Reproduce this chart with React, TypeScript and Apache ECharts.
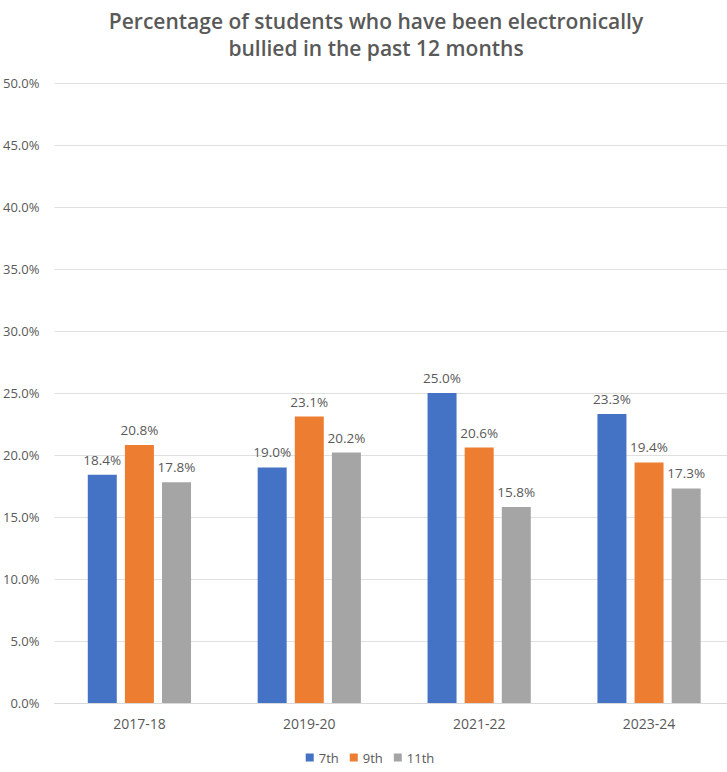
import React, { useEffect, useRef } from "react";
import * as echarts from "echarts";

const categories = ["2017-18", "2019-20", "2021-22", "2023-24"];
const seriesNames = ["7th", "9th", "11th"];
const values7th = [18.4, 19.0, 25.0, 23.3];
const values9th = [20.8, 23.1, 20.6, 19.4];
const values11th = [17.8, 20.2, 15.8, 17.3];
const colors = ["#4472C4", "#ED7D31", "#A5A5A5"];

const FONT = "'Open Sans', 'Noto Sans', sans-serif";

export default function App() {
  const ref = useRef<HTMLDivElement>(null);
  useEffect(() => {
    if (!ref.current) return;
    const chart = echarts.init(ref.current, undefined, { renderer: "svg" });
    const data = [values7th, values9th, values11th];
    chart.setOption({
      animation: false,
      backgroundColor: "#ffffff",
      title: {
        text: "Percentage of students who have been electronically\nbullied in the past 12 months",
        left: 371,
        textAlign: "center",
        top: 2,
        textStyle: {
          fontFamily: FONT,
          fontSize: 21,
          fontWeight: 600,
          color: "#595959",
          lineHeight: 27,
        },
      },
      legend: {
        data: seriesNames,
        bottom: 3,
        left: "center",
        itemWidth: 8,
        itemHeight: 8,
        itemGap: 11,
        icon: "rect",
        textStyle: { fontFamily: FONT, fontSize: 13, color: "#595959" },
      },
      grid: { left: 52, right: 6, top: 83, bottom: 69 },
      xAxis: {
        type: "category",
        data: categories,
        axisLine: { lineStyle: { color: "#d9d9d9" } },
        axisTick: { show: false },
        axisLabel: { fontFamily: FONT, fontSize: 14, color: "#595959", margin: 13 },
      },
      yAxis: {
        type: "value",
        min: 0,
        max: 50,
        interval: 5,
        axisLine: { show: false },
        axisTick: { show: false },
        splitLine: { lineStyle: { color: "#e0e0e0", width: 1 } },
        axisLabel: {
          fontFamily: FONT,
          fontSize: 13,
          color: "#595959",
          margin: 15,
          formatter: (v: number) => v.toFixed(1) + "%",
        },
      },
      series: seriesNames.map((name, i) => ({
        name,
        type: "bar",
        data: data[i],
        barWidth: 29,
        barGap: "28%",
        itemStyle: { color: colors[i] },
        label: {
          show: true,
          position: "top",
          distance: 8,
          fontFamily: FONT,
          fontSize: 13.5,
          color: "#595959",
          formatter: (p: any) => p.value.toFixed(1) + "%",
        },
      })),
    });
    return () => chart.dispose();
  }, []);
  return (
    <div style={{ position: "fixed", left: 0, top: 0, width: 727, height: 772, overflow: "hidden", background: "#fff" }}>
      <div ref={ref} style={{ width: 740, height: 772 }} />
    </div>
  );
}
